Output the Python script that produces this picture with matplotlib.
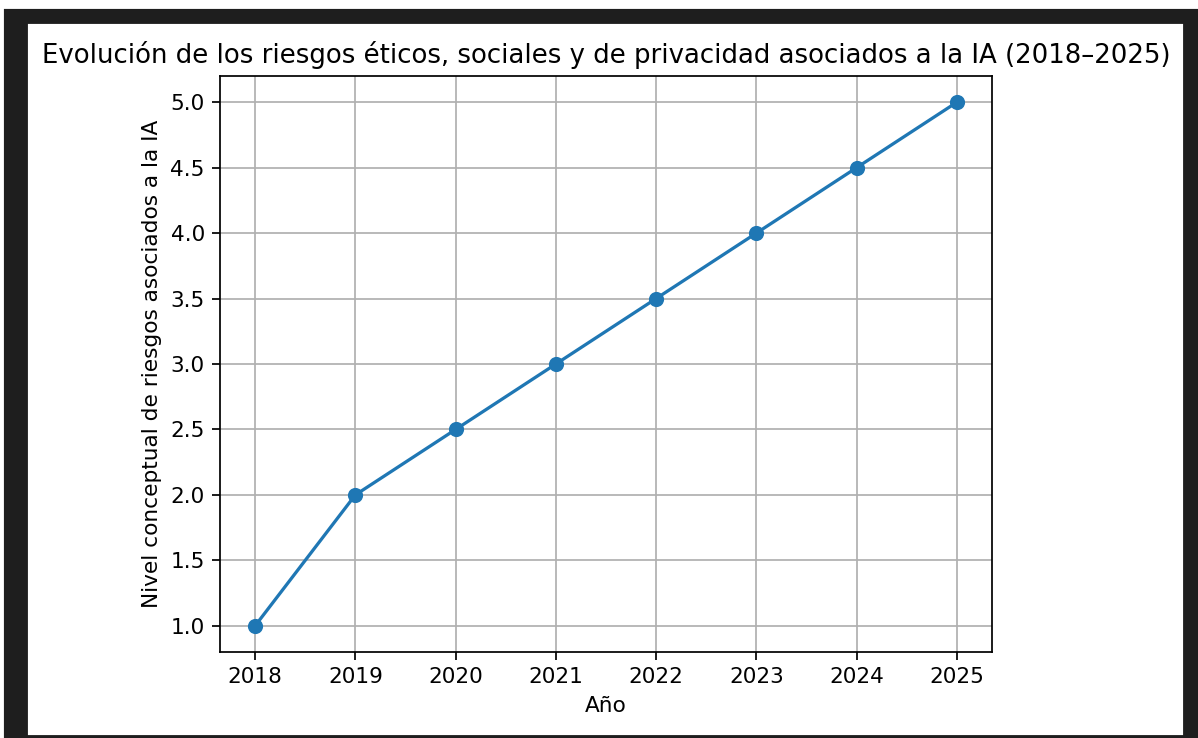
import matplotlib
matplotlib.use("Agg")
import matplotlib.pyplot as plt
from matplotlib.patches import Rectangle

years = [2018, 2019, 2020, 2021, 2022, 2023, 2024, 2025]
risk_level = [1.0, 2.0, 2.5, 3.0, 3.5, 4.0, 4.5, 5.0]

W, H = 1198, 738
DPI = 156

fig = plt.figure(figsize=(W / DPI, H / DPI), dpi=DPI)
fig.patch.set_facecolor("white")

# marco oscuro de la captura
fig.patches.append(Rectangle((5 / W, 0), (W - 5) / W, (H - 10) / H,
                             transform=fig.transFigure, color="#1e1e1e", zorder=-2))
fig.patches.append(Rectangle((29 / W, (H - 734) / H), (1182 - 29) / W, (734 - 25) / H,
                             transform=fig.transFigure, color="white", zorder=-1))

left, right, top, bottom = 220, 992, 76, 652
ax = fig.add_axes([left / W, (H - bottom) / H, (right - left) / W, (bottom - top) / H])

ax.plot(years, risk_level, marker="o")
ax.set_title("Evolución de los riesgos éticos, sociales y de privacidad asociados a la IA (2018–2025)")
ax.set_xlabel("Año")
ax.set_ylabel("Nivel conceptual de riesgos asociados a la IA")
ax.grid(True)

fig.savefig("out.png", dpi=DPI)
